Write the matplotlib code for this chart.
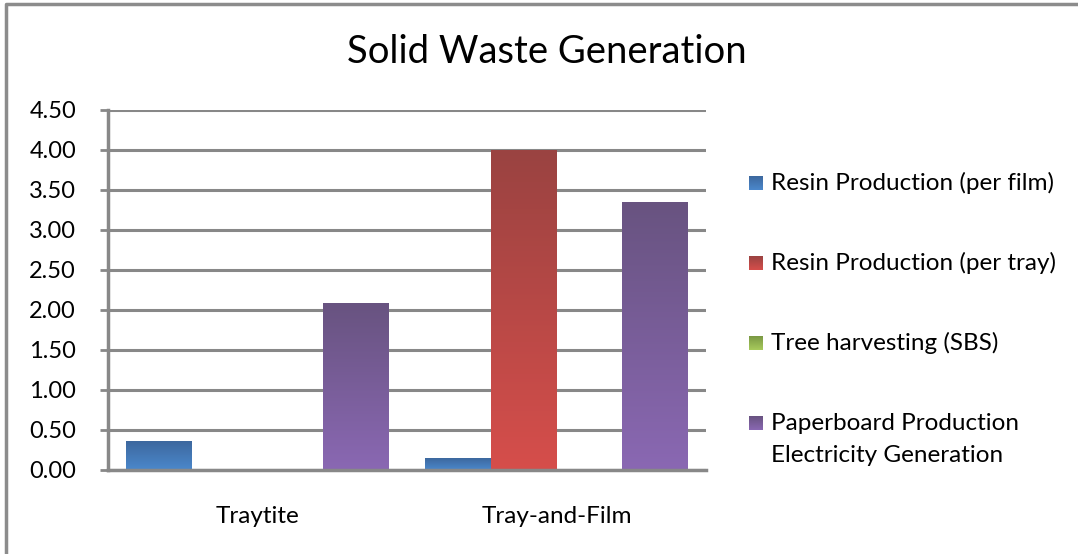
import matplotlib
matplotlib.use("Agg")
import matplotlib.pyplot as plt
import numpy as np
from matplotlib.colors import LinearSegmentedColormap

plt.rcParams['font.family'] = ['Lato', 'DejaVu Sans']

categories = ['Traytite', 'Tray-and-Film']
series = ['Resin Production (per film)', 'Resin Production (per tray)',
          'Tree harvesting (SBS)', 'Paperboard Production\nElectricity Generation']
resin_film = [0.36, 0.14]
resin_tray = [0.0, 4.00]
tree_harvest = [0.0, 0.0]
paperboard = [2.08, 3.34]
yticks = [0.0, 0.5, 1.0, 1.5, 2.0, 2.5, 3.0, 3.5, 4.0, 4.5]

# (top colour, bottom colour) for the gradient fill
grads = [('#3d689e', '#4b88cc'), ('#9a4341', '#d64e4b'),
         ('#7a9844', '#a8cb5c'), ('#685380', '#8a68b3')]

W, H = 1078, 554
fig = plt.figure(figsize=(W / 100, H / 100), dpi=100)
ax = fig.add_axes([108 / W, 1 - 470 / H, 598 / W, 360 / H])

x = np.arange(len(categories))
bw = 0.2207
values = [resin_film, resin_tray, tree_harvest, paperboard]
grad = np.linspace(0, 1, 256).reshape(-1, 1)
for i, vals in enumerate(values):
    bars = ax.bar(x + (i - 1.5) * bw, vals, bw, color='none', zorder=3)
    cmap = LinearSegmentedColormap.from_list('g%d' % i, [grads[i][0], grads[i][1]])
    for b in bars:
        if b.get_height() <= 0:
            continue
        ax.imshow(grad, cmap=cmap, aspect='auto', zorder=3,
                  extent=[b.get_x(), b.get_x() + b.get_width(), 0, b.get_height()])

ax.set_xlim(-0.5, 1.5)
ax.set_ylim(0, 4.5)
ax.set_yticks(yticks)
ax.set_yticklabels(['%.2f' % v for v in yticks], fontsize=17)
ax.set_xticks(x)
ax.set_xticklabels(categories, fontsize=17.5)
ax.tick_params(axis='x', length=0, pad=26)
ax.tick_params(axis='y', length=6, width=2, color='#888888', pad=17)
ax.yaxis.grid(True, color='#888888', linewidth=2.2, zorder=1)
ax.set_axisbelow(True)
for s in ['top', 'right']:
    ax.spines[s].set_visible(False)
for s in ['left', 'bottom']:
    ax.spines[s].set_color('#888888')
    ax.spines[s].set_linewidth(2.5)
    ax.spines[s].set_zorder(4)

# overlay in pixel coordinates for title, legend and frame
ov = fig.add_axes([0, 0, 1, 1], zorder=-1)
ov.set_xlim(0, W)
ov.set_ylim(H, 0)
ov.axis('off')
ov.plot([6, 6, W], [H, 4, 4], color='#8c8c8c', lw=2.5)
fig.text(547 / W, 1 - 52 / H, 'Solid Waste Generation', fontsize=27.5,
         ha='center', va='center')

lov = fig.add_axes([0, 0, 1, 1])
lov.axis('off')
leg_y = [183, 263, 343, 423]
for i, name in enumerate(series):
    cmap = LinearSegmentedColormap.from_list('l%d' % i, [grads[i][0], grads[i][1]])
    yc = leg_y[i]
    lov.imshow(grad, cmap=cmap, aspect='auto',
               extent=[749, 763, yc + 7, yc - 7])
    for k, line in enumerate(name.split('\n')):
        lov.text(771, yc + 32 * k, line, fontsize=17.5, va='center', ha='left')
lov.set_xlim(0, W)
lov.set_ylim(H, 0)

fig.savefig('out.png', dpi=100, facecolor='white')
